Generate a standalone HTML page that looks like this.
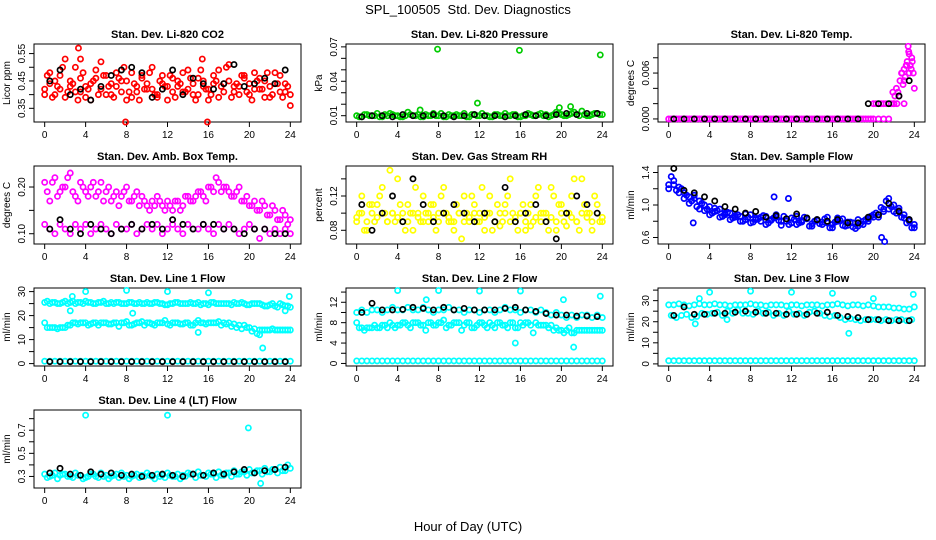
<!DOCTYPE html>
<html><head><meta charset="utf-8">
<style>
body{margin:0;background:#fff;}
svg{display:block;font-family:"Liberation Sans",sans-serif;}
</style></head>
<body>
<svg id="c" width="936" height="540" viewBox="0 0 936 540">
<text x="468" y="14" text-anchor="middle" font-size="13">SPL_100505&#160; Std. Dev. Diagnostics</text>
<text x="468" y="531" text-anchor="middle" font-size="13">Hour of Day (UTC)</text>
</svg>
<script>
const T0=[0,0.5,1,1.5,2,2.5,3,3.5,4,4.5,5,5.5,6,6.5,7,7.5,8,8.5,9,9.5,10,10.5,11,11.5,12,12.5,13,13.5,14,14.5,15,15.5,16,16.5,17,17.5,18,18.5,19,19.5,20,20.5,21,21.5,22,22.5,23,23.5,24];
const T1=[0.25,0.75,1.25,1.75,2.25,2.75,3.25,3.75,4.25,4.75,5.25,5.75,6.25,6.75,7.25,7.75,8.25,8.75,9.25,9.75,10.25,10.75,11.25,11.75,12.25,12.75,13.25,13.75,14.25,14.75,15.25,15.75,16.25,16.75,17.25,17.75,18.25,18.75,19.25,19.75,20.25,20.75,21.25,21.75,22.25,22.75,23.25,23.75];
const TH=[0.5,1.5,2.5,3.5,4.5,5.5,6.5,7.5,8.5,9.5,10.5,11.5,12.5,13.5,14.5,15.5,16.5,17.5,18.5,19.5,20.5,21.5,22.5,23.5];
const xTicks=[0,4,8,12,16,20,24];

const co2A=[0.42,0.44,0.40,0.47,0.39,0.45,0.50,0.41,0.43,0.38,0.46,0.52,0.40,0.44,0.48,0.41,0.45,0.39,0.43,0.47,0.42,0.50,0.40,0.44,0.38,0.46,0.43,0.41,0.49,0.44,0.40,0.45,0.42,0.47,0.39,0.44,0.51,0.41,0.43,0.46,0.40,0.48,0.42,0.45,0.39,0.44,0.47,0.41,0.36];
const co2B=[0.47,0.39,0.43,0.50,0.41,0.44,0.38,0.48,0.42,0.45,0.40,0.47,0.43,0.39,0.46,0.50,0.41,0.44,0.38,0.42,0.48,0.40,0.45,0.43,0.47,0.39,0.44,0.41,0.46,0.38,0.49,0.42,0.40,0.45,0.43,0.50,0.39,0.44,0.47,0.41,0.38,0.45,0.42,0.48,0.40,0.44,0.39,0.43];
const co2C=[0.40,0.48,0.45,0.42,0.53,0.43,0.41,0.46,0.39,0.44,0.49,0.42,0.47,0.40,0.43,0.45,0.38,0.48,0.41,0.46,0.44,0.42,0.39,0.47,0.43,0.41,0.45,0.48,0.42,0.40,0.46,0.43,0.38,0.44,0.49,0.41,0.45,0.43,0.40,0.47,0.44,0.42,0.46,0.39,0.43,0.48,0.41,0.44,0.40];
const co2OutT=[3.3,3.5,7.9,15.9,15.4];
const co2OutV=[0.57,0.53,0.30,0.30,0.53];
const co2K=[0.45,0.49,0.40,0.42,0.38,0.43,0.47,0.49,0.50,0.48,0.39,0.42,0.49,0.40,0.46,0.44,0.42,0.44,0.51,0.43,0.44,0.46,0.44,0.49];
const prA=[0.010,0.009,0.011,0.010,0.012,0.009,0.010,0.011,0.010,0.009,0.013,0.010,0.011,0.009,0.010,0.012,0.010,0.009,0.011,0.010,0.010,0.012,0.009,0.011,0.010,0.010,0.009,0.011,0.010,0.012,0.010,0.011,0.009,0.010,0.011,0.010,0.012,0.011,0.010,0.013,0.011,0.010,0.012,0.011,0.014,0.010,0.011,0.012,0.011];
const prB=[0.009,0.011,0.010,0.010,0.009,0.011,0.012,0.010,0.009,0.010,0.011,0.010,0.009,0.011,0.010,0.010,0.012,0.009,0.010,0.011,0.010,0.009,0.011,0.010,0.012,0.010,0.009,0.011,0.010,0.010,0.011,0.009,0.010,0.012,0.010,0.011,0.010,0.009,0.011,0.012,0.010,0.011,0.013,0.010,0.011,0.010,0.012,0.011];
const prOutT=[7.9,15.9,23.8,11.8,6.2,19.8,20.9];
const prOutV=[0.068,0.067,0.063,0.021,0.015,0.017,0.018];
const prK=[0.009,0.010,0.010,0.009,0.011,0.010,0.010,0.011,0.010,0.009,0.010,0.011,0.010,0.010,0.009,0.010,0.011,0.010,0.010,0.011,0.012,0.011,0.012,0.012];
const tpA=[0,0,0,0,0,0,0,0,0,0,0,0,0,0,0,0,0,0,0,0,0,0,0,0,0,0,0,0,0,0,0,0,0,0,0,0,0,0,0,0,0,0,0,0,0.002,0.003,0.005,0.006,0.004];
const tpB=[0,0,0,0,0,0,0,0,0,0,0,0,0,0,0,0,0,0,0,0,0,0,0,0,0,0,0,0,0,0,0,0,0,0,0,0,0,0,0,0,0.002,0.002,0.002,0.002,0.004,0.006,0.007,0.008];
const tpOutT=[21.9,22.1,22.4,22.6,22.8,23.0,23.1,23.2,23.3,23.4,23.5,23.6,23.7,23.8,23.9,22.3,22.9,23.45,20.0,21.0,22.0,23.0];
const tpOutV=[0.0035,0.003,0.0035,0.005,0.006,0.0065,0.0055,0.007,0.0075,0.0095,0.0085,0.007,0.0065,0.0075,0.006,0.002,0.0045,0.0088,0.002,0.002,0.002,0.002];
const tpK=[0,0,0,0,0,0,0,0,0,0,0,0,0,0,0,0,0,0,0,0.002,0.002,0.002,0.003,0.005];
const abA=[0.21,0.17,0.22,0.19,0.20,0.23,0.18,0.21,0.19,0.20,0.18,0.21,0.19,0.17,0.19,0.18,0.20,0.17,0.19,0.18,0.16,0.17,0.18,0.16,0.17,0.15,0.17,0.16,0.18,0.17,0.19,0.18,0.20,0.19,0.21,0.20,0.19,0.18,0.20,0.17,0.16,0.17,0.15,0.16,0.14,0.15,0.13,0.14,0.13];
const abB=[0.19,0.21,0.18,0.20,0.22,0.19,0.17,0.20,0.18,0.21,0.19,0.17,0.20,0.18,0.16,0.19,0.17,0.18,0.16,0.17,0.15,0.16,0.17,0.15,0.16,0.17,0.15,0.18,0.17,0.18,0.19,0.17,0.20,0.22,0.19,0.20,0.18,0.19,0.17,0.18,0.16,0.15,0.17,0.14,0.16,0.13,0.15,0.12];
const abC=[0.12,0.11,0.10,0.12,0.11,0.10,0.12,0.11,0.12,0.10,0.11,0.12,0.11,0.10,0.12,0.11,0.11,0.12,0.10,0.11,0.12,0.11,0.12,0.10,0.11,0.12,0.11,0.10,0.12,0.11,0.11,0.12,0.11,0.10,0.12,0.11,0.12,0.11,0.10,0.11,0.12,0.11,0.09,0.11,0.10,0.11,0.10,0.11,0.10];
const abK=[0.11,0.13,0.11,0.10,0.12,0.11,0.10,0.11,0.12,0.11,0.12,0.11,0.13,0.12,0.11,0.12,0.12,0.11,0.11,0.10,0.11,0.11,0.10,0.10];
const rhA=[0.09,0.12,0.08,0.10,0.11,0.13,0.09,0.10,0.14,0.09,0.11,0.08,0.10,0.12,0.09,0.11,0.10,0.13,0.09,0.08,0.10,0.12,0.09,0.11,0.10,0.08,0.12,0.09,0.10,0.11,0.14,0.09,0.10,0.08,0.11,0.12,0.09,0.10,0.13,0.08,0.11,0.10,0.12,0.09,0.14,0.10,0.08,0.11,0.09];
const rhB=[0.10,0.08,0.11,0.09,0.12,0.10,0.15,0.09,0.11,0.08,0.10,0.13,0.09,0.10,0.11,0.08,0.12,0.10,0.09,0.11,0.07,0.10,0.12,0.09,0.13,0.10,0.08,0.11,0.09,0.12,0.10,0.08,0.11,0.10,0.09,0.13,0.10,0.08,0.12,0.11,0.09,0.10,0.14,0.08,0.11,0.10,0.12,0.09];
const rhC=[0.095,0.10,0.09,0.11,0.095,0.10,0.09,0.10,0.095,0.10,0.09,0.10,0.095,0.09,0.10,0.095,0.09,0.10,0.095,0.09,0.10,0.09,0.095,0.10,0.09,0.095,0.10,0.09,0.085,0.10,0.09,0.095,0.10,0.09,0.085,0.095,0.10,0.09,0.095,0.09,0.10,0.085,0.095,0.09,0.10,0.095,0.09,0.10,0.095];
const rhK=[0.11,0.08,0.10,0.12,0.09,0.14,0.11,0.09,0.10,0.11,0.10,0.09,0.10,0.09,0.13,0.09,0.10,0.11,0.09,0.07,0.10,0.12,0.11,0.10];
const sfA=[1.25,1.30,1.22,1.15,1.10,1.08,1.05,1.00,0.98,0.92,0.95,0.88,0.90,0.85,0.86,0.82,0.88,0.84,0.80,0.86,0.82,0.85,0.80,0.83,0.78,0.86,0.81,0.84,0.77,0.82,0.79,0.85,0.76,0.80,0.83,0.75,0.78,0.82,0.76,0.80,0.85,0.88,0.92,0.95,1.00,0.93,0.88,0.82,0.76];
const sfB=[1.35,1.18,1.20,1.12,1.05,0.98,1.02,0.95,0.90,0.93,0.86,0.91,0.84,0.88,0.80,0.85,0.79,0.83,0.87,0.78,0.84,0.81,0.86,0.76,0.82,0.78,0.85,0.74,0.80,0.77,0.83,0.72,0.79,0.81,0.74,0.79,0.71,0.77,0.82,0.86,0.90,0.97,1.05,0.98,0.90,0.85,0.78,0.72];
const sfC=[1.20,1.25,1.15,1.08,1.02,1.12,0.95,0.93,0.88,0.96,0.85,0.90,0.82,0.87,0.80,0.89,0.78,0.82,0.85,0.76,0.81,0.88,0.75,0.80,0.84,0.76,0.79,0.83,0.74,0.81,0.76,0.78,0.72,0.84,0.75,0.79,0.73,0.74,0.80,0.83,0.88,0.85,0.95,1.08,0.92,0.96,0.84,0.80,0.72];
const sfOutT=[2.4,21.1,20.8,10.3,11.7];
const sfOutV=[0.78,0.55,0.60,1.10,1.08];
const sfK=[1.45,1.18,1.15,1.10,1.05,0.98,0.95,0.90,0.92,0.85,0.87,0.83,0.89,0.84,0.82,0.80,0.82,0.78,0.78,0.85,0.88,1.02,0.92,0.82];
const l1A=[25.5,25,25.5,25,26,25.5,25,25.5,26,25.5,25,25.5,25,25.5,25.5,25,25,25.5,25,25,25.5,25,25.5,25,24.5,25,25.5,25,25,25,25.5,25,24.5,25.5,25,25,25,25.5,25,25,24.5,25,25,24,24.5,24,25,24,23.5];
const l1B=[26,25.5,25,25.5,25,26,25.5,25,25.5,25,25.5,26,25,25,25.5,25,25.5,25,25.5,25,25,25.5,25,24.5,25,25.5,25,25,25.5,25,24.5,25,25.5,25,25,25,24.5,25,25.5,24.5,25,25,24.5,24,25,23.5,24.5,24];
const l1C=[17,15,15,15,15,16,17,17,17,16.5,17,17,17,16.5,17,17,17.5,16,17,17.5,17,16.5,17,17,16.5,17,17,16.5,17,16,18,17,17,17,17.5,17,17,16.5,16,16,15,14.5,14,14,14,14,14,14,14];
const l1D=[15,15,14.5,15,16,17,16.5,17,16,17,16,17,16.5,17,15.5,17,16,16.5,17,16,17,16,17,18,16,17,16.5,17,16,17,17,16.5,17,17,16,16.5,15.5,15,14.5,15,13.5,12.5,14,14,14.5,14,14,14];
const l1E=[1,1,1,1,1,1,1,1,1,1,1,1,1,1,1,1,1,1,1,1,1,1,1,1,1,1,1,1,1,1,1,1,1,1,1,1,1,1,1,1,1,1,1,1,1,1,1,1,1];
const l1OutT=[2.7,4.0,8.0,12.0,16.0,23.9,8.6,2.5,15.0,21.3,21.0,23.5];
const l1OutV=[28,30,30.5,30,29.5,28,21,22,13,6.5,12,22];
const l1K=[0.8,0.8,0.8,0.8,0.8,0.8,0.8,0.8,0.8,0.8,0.8,0.8,0.8,0.8,0.8,0.8,0.8,0.8,0.8,0.8,0.8,0.8,0.8,0.8];
const l2A=[10,10.5,10,10.5,10.5,10,10.5,11,10.5,10.5,11,10.5,10.5,11,10.5,10,10.5,10.5,11,10.5,10.5,10,10.5,10.5,10,10.5,10.5,10,10.5,11,10.5,10.5,10,10.5,10.5,10,10.5,10,9.5,10,9.5,9,9.5,9,9.5,9.5,9,9.5,9];
const l2C=[8,7,7,7,7,7.5,7,7.5,7.5,8,7.5,8,8,7.5,8,7.5,8,8.5,7.5,8,8,7.5,8,7,8,7.5,8,7,8,7.5,8,7,8,8,7.5,8,7.5,7.5,7.5,7,6.5,6.5,6,6.5,6.5,6.5,6.5,6.5,6.5];
const l2D=[7,6.5,7,7.5,7,7.5,8,7,7.5,8,7,8,7.5,6.5,8,7.5,8,7,7.5,8,6.5,8,7,7.5,8,7,7.5,8,7.5,7,8,7,7.5,8,6,7.5,7.5,7,6.5,6.5,6,7,6,6.5,6.5,6.5,6.5,6.5];
const l2E=[0.5,0.5,0.5,0.5,0.5,0.5,0.5,0.5,0.5,0.5,0.5,0.5,0.5,0.5,0.5,0.5,0.5,0.5,0.5,0.5,0.5,0.5,0.5,0.5,0.5,0.5,0.5,0.5,0.5,0.5,0.5,0.5,0.5,0.5,0.5,0.5,0.5,0.5,0.5,0.5,0.5,0.5,0.5,0.5,0.5,0.5,0.5,0.5,0.5];
const l2OutT=[4,8,12,16,23.8,20.2,6.8,15.5,21.2];
const l2OutV=[14.3,14.3,14.2,14.2,13.2,12.5,12.5,4,3.2];
const l2K=[10,11.8,10.5,10.5,10.6,11,10.8,10.5,11,10.5,10.8,10.5,10.5,10.5,10.8,11,10.5,10.2,9.8,9.5,9.5,9.3,9.3,9.2];
const l3A=[28,28,28.5,28,27.5,28,28.5,28,28,28.5,28,28,27.5,28,28,28,28.5,28,28,27.5,28,28,28,27.5,28,28,27.5,28,28,28,27.5,28,28,28.5,28,27.5,28,28,27.5,28,27.5,27,27,27,26.5,26.5,26,26,27];
const l3C=[23,22,23,23.5,22,22.5,24,23.5,24,24.5,23,25,24,25.5,24,24,23.5,25,24,24.5,23,24,23,25,23.5,24,23,24.5,25,24,23,22.5,23,22,21,21.5,21,20.5,21,21,21,20.5,21,20.5,21,21,20.5,21];
const l3E=[1.5,1.5,1.5,1.5,1.5,1.5,1.5,1.5,1.5,1.5,1.5,1.5,1.5,1.5,1.5,1.5,1.5,1.5,1.5,1.5,1.5,1.5,1.5,1.5,1.5,1.5,1.5,1.5,1.5,1.5,1.5,1.5,1.5,1.5,1.5,1.5,1.5,1.5,1.5,1.5,1.5,1.5,1.5,1.5,1.5,1.5,1.5,1.5,1.5];
const l3OutT=[2.6,4.0,8.0,12.0,16.0,23.9,17.6,20.0,3.0,5.7];
const l3OutV=[19,34,34.5,34,33.5,33,14.5,31,31,21];
const l3K=[23,27,23.5,23.5,24,24,24.5,25,24.5,24,24,23.5,23.5,23.5,24,24.5,23,22.5,22,21,21,20.5,20.5,20.5];
const l4A=[0.32,0.30,0.33,0.31,0.32,0.30,0.33,0.31,0.29,0.32,0.30,0.33,0.31,0.30,0.32,0.33,0.31,0.30,0.32,0.31,0.33,0.30,0.32,0.31,0.33,0.30,0.32,0.31,0.33,0.32,0.34,0.31,0.33,0.32,0.34,0.31,0.33,0.35,0.32,0.34,0.36,0.33,0.35,0.37,0.34,0.36,0.38,0.35,0.37];
const l4B=[0.29,0.31,0.28,0.32,0.30,0.29,0.31,0.28,0.30,0.32,0.29,0.30,0.28,0.31,0.29,0.30,0.28,0.31,0.29,0.30,0.31,0.28,0.30,0.29,0.31,0.30,0.28,0.30,0.32,0.29,0.31,0.30,0.32,0.29,0.31,0.33,0.30,0.32,0.34,0.31,0.33,0.35,0.32,0.34,0.36,0.33,0.35,0.40];
const l4OutT=[4,12,19.9,21.1];
const l4OutV=[0.83,0.83,0.72,0.24];
const l4K=[0.33,0.37,0.32,0.31,0.34,0.32,0.33,0.31,0.32,0.30,0.31,0.32,0.31,0.30,0.32,0.31,0.33,0.32,0.34,0.36,0.33,0.35,0.36,0.38];

const panels=[
 {name:'co2',title:'Stan. Dev. Li-820 CO2',ylab:'Licor ppm',col:0,row:0,ymin:0.30,ymax:0.585,ticks:[0.35,0.40,0.45,0.50,0.55],labels:['0.35','','0.45','','0.55'],
  series:[[T0,co2A,'#ff0000'],[T1,co2B,'#ff0000'],[T0,co2C,'#ff0000'],[co2OutT,co2OutV,'#ff0000'],[TH,co2K,'#000']]},
 {name:'pressure',title:'Stan. Dev. Li-820 Pressure',ylab:'kPa',col:1,row:0,ymin:0.0045,ymax:0.0725,ticks:[0.01,0.02,0.03,0.04,0.05,0.06,0.07],labels:['0.01','','','0.04','','','0.07'],
  series:[[T0,prA,'#00cc00'],[T1,prB,'#00cc00'],[prOutT,prOutV,'#00cc00'],[TH,prK,'#000']]},
 {name:'temp',title:'Stan. Dev. Li-820 Temp.',ylab:'degrees C',col:2,row:0,ymin:-0.0004,ymax:0.0098,ticks:[0,0.002,0.004,0.006,0.008],labels:['0.000','','','0.006',''],
  series:[[T0,tpA,'#ff00ff'],[T1,tpB,'#ff00ff'],[tpOutT,tpOutV,'#ff00ff'],[TH,tpK,'#000']]},
 {name:'amb-box-temp',title:'Stan. Dev. Amb. Box Temp.',ylab:'degrees C',col:0,row:1,ymin:0.078,ymax:0.245,ticks:[0.10,0.15,0.20],labels:['0.10','','0.20'],
  series:[[T0,abA,'#ff00ff'],[T1,abB,'#ff00ff'],[T0,abC,'#ff00ff'],[TH,abK,'#000']]},
 {name:'gas-stream-rh',title:'Stan. Dev. Gas Stream RH',ylab:'percent',col:1,row:1,ymin:0.064,ymax:0.155,ticks:[0.08,0.10,0.12,0.14],labels:['0.08','','0.12',''],
  series:[[T0,rhA,'#ffff00'],[T1,rhB,'#ffff00'],[T0,rhC,'#ffff00'],[TH,rhK,'#000']]},
 {name:'sample-flow',title:'Stan. Dev. Sample Flow',ylab:'ml/min',col:2,row:1,ymin:0.52,ymax:1.48,ticks:[0.6,0.8,1.0,1.2,1.4],labels:['0.6','','1.0','','1.4'],
  series:[[T0,sfA,'#0000ff'],[T1,sfB,'#0000ff'],[T0,sfC,'#0000ff'],[sfOutT,sfOutV,'#0000ff'],[TH,sfK,'#000']]},
 {name:'line1-flow',title:'Stan. Dev. Line 1 Flow',ylab:'ml/min',col:0,row:2,ymin:-1,ymax:31.5,ticks:[0,5,10,15,20,25,30],labels:['0','','10','','20','','30'],
  series:[[T0,l1A,'#00ffff'],[T1,l1B,'#00ffff'],[T0,l1C,'#00ffff'],[T1,l1D,'#00ffff'],[T0,l1E,'#00ffff'],[l1OutT,l1OutV,'#00ffff'],[TH,l1K,'#000']]},
 {name:'line2-flow',title:'Stan. Dev. Line 2 Flow',ylab:'ml/min',col:1,row:2,ymin:-0.5,ymax:14.8,ticks:[0,2,4,6,8,10,12,14],labels:['0','','4','','8','','12',''],
  series:[[T0,l2A,'#00ffff'],[T0,l2C,'#00ffff'],[T1,l2D,'#00ffff'],[T0,l2E,'#00ffff'],[l2OutT,l2OutV,'#00ffff'],[TH,l2K,'#000']]},
 {name:'line3-flow',title:'Stan. Dev. Line 3 Flow',ylab:'ml/min',col:2,row:2,ymin:-1,ymax:36,ticks:[0,5,10,15,20,25,30,35],labels:['0','','10','','20','','30',''],
  series:[[T0,l3A,'#00ffff'],[T1,l3C,'#00ffff'],[T0,l3E,'#00ffff'],[l3OutT,l3OutV,'#00ffff'],[TH,l3K,'#000']]},
 {name:'line4-flow',title:'Stan. Dev. Line 4 (LT) Flow',ylab:'ml/min',col:0,row:3,ymin:0.20,ymax:0.875,ticks:[0.3,0.4,0.5,0.6,0.7,0.8],labels:['0.3','','0.5','','0.7',''],
  series:[[T0,l4A,'#00ffff'],[T1,l4B,'#00ffff'],[l4OutT,l4OutV,'#00ffff'],[TH,l4K,'#000']]}
];

const NS='http://www.w3.org/2000/svg';
const svg=document.getElementById('c');
function mk(tag,attrs,parent,txt){const e=document.createElementNS(NS,tag);for(const k in attrs)e.setAttribute(k,attrs[k]);if(txt!==undefined)e.textContent=txt;parent.appendChild(e);return e;}
const colX=[34,346,658], rowY=[44,166,288,410], W=267, H=78;

panels.forEach(p=>{
  const bx=colX[p.col], by=rowY[p.row];
  const g=mk('g',{},svg);
  
  
  const xs=t=>bx+W*0.04+(t/24)*W*0.92;
  const ys=v=>by+H-(v-p.ymin)/(p.ymax-p.ymin)*H;
  const tt=mk('text',{x:bx+W/2,y:by-6,'text-anchor':'middle','font-size':'11','font-weight':'bold'},g,p.title);
  
  
  const xa=mk('g',{stroke:'#000','stroke-width':'1'},g);
  
  
  mk('line',{x1:xs(0),x2:xs(24),y1:by+H,y2:by+H},xa);
  xTicks.forEach(t=>{
    mk('line',{x1:xs(t),x2:xs(t),y1:by+H,y2:by+H+5},xa);
    const l=mk('text',{x:xs(t),y:by+H+16,'text-anchor':'middle','font-size':'10',stroke:'none'},xa,String(t));
    
    
  });
  const ya=mk('g',{stroke:'#000','stroke-width':'1'},g);
  
  
  mk('line',{x1:bx,x2:bx,y1:ys(p.ticks[0]),y2:ys(p.ticks[p.ticks.length-1])},ya);
  p.ticks.forEach((v,i)=>{
    mk('line',{x1:bx-5,x2:bx,y1:ys(v),y2:ys(v)},ya);
    if(p.labels[i]){
      const yy=ys(v);
      const l=mk('text',{x:bx-9,y:yy,'text-anchor':'middle','font-size':'10',stroke:'none',transform:`rotate(-90 ${bx-9} ${yy})`},ya,p.labels[i]);
      
      
    }
  });
  const yl=mk('text',{x:bx-24,y:by+H/2,'text-anchor':'middle','font-size':'10',transform:`rotate(-90 ${bx-24} ${by+H/2})`},g,p.ylab);
  
  
  const box=mk('rect',{x:bx,y:by,width:W,height:H,fill:'none',stroke:'#000','stroke-width':'1'},g);
  
  
  p.series.forEach(s=>{
    const sg=mk('g',{fill:'none',stroke:s[2],'stroke-width':'1.7'},g);
    
    
    s[0].forEach((t,i)=>{
      if(s[1][i]===undefined)return;
      const c=mk('circle',{cx:xs(t),cy:ys(s[1][i]),r:2.6},sg);
      
      
    });
  });
});
</script>
</body></html>
